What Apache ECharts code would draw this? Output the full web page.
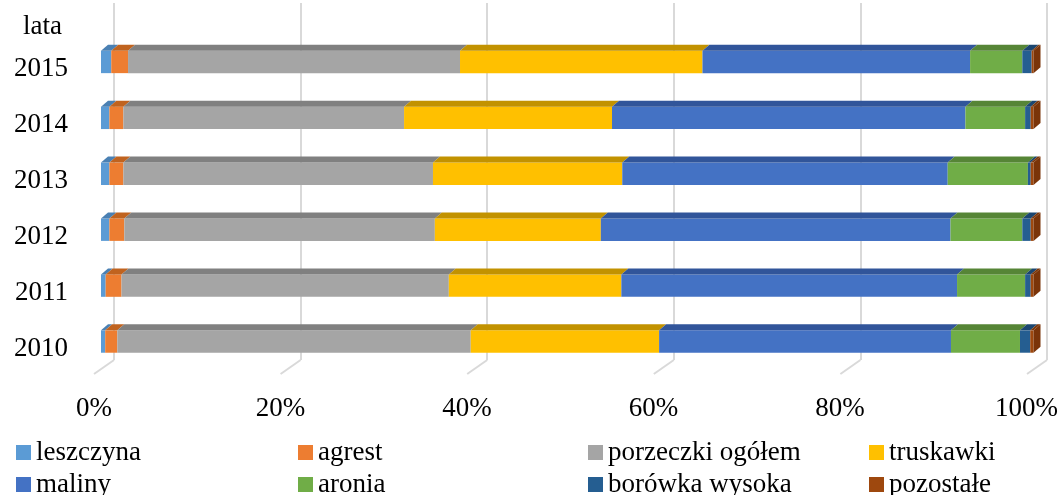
<!DOCTYPE html>
<html>
<head>
<meta charset="utf-8">
<script src="https://cdn.jsdelivr.net/npm/echarts@6/dist/echarts.min.js"></script>
<style>
  html, body { margin: 0; padding: 0; background: #fff; }
  #echarts_main { width: 1061px; height: 495px; }
</style>
</head>
<body>
<div id="echarts_main"></div>
<script>
// dane (udział w %)
var lata = ['2010', '2011', '2012', '2013', '2014', '2015'];
var leszczyna = [0.45, 0.5, 0.9, 0.9, 0.9, 1.1];
var agrest = [1.3, 1.7, 1.6, 1.5, 1.5, 1.8];
var porzeczki = [37.9, 35.1, 33.3, 33.2, 30.1, 35.6];
var truskawki = [20.2, 18.5, 17.8, 20.3, 22.3, 26.0];
var maliny = [31.3, 36.0, 37.5, 34.9, 37.9, 28.7];
var aronia = [7.4, 7.3, 7.7, 8.6, 6.4, 5.6];
var borowka = [1.1, 0.6, 0.9, 0.3, 0.6, 1.0];
var pozostale = [0.35, 0.3, 0.3, 0.3, 0.3, 0.2];
var osX = [0, 20, 40, 60, 80, 100];

var FONT = 'Liberation Serif';
var DX = 7, DY = 6; // przesunięcie efektu 3D

var grupy = [
  { name: 'leszczyna', data: leszczyna, color: '#5B9BD5', top: '#4A80B3' },
  { name: 'agrest', data: agrest, color: '#ED7D31', top: '#C0631F' },
  { name: 'porzeczki ogółem', data: porzeczki, color: '#A5A5A5', top: '#808080' },
  { name: 'truskawki', data: truskawki, color: '#FFC000', top: '#C29200' },
  { name: 'maliny', data: maliny, color: '#4472C4', top: '#31559A' },
  { name: 'aronia', data: aronia, color: '#70AD47', top: '#568536' },
  { name: 'borówka wysoka', data: borowka, color: '#255E91', top: '#1B4670' },
  { name: 'pozostałe', data: pozostale, color: '#9E480E', top: '#7A360A', side: '#7A3409' }
];

function segment(g, last) {
  return function (params, api) {
    var a = api.coord([api.value(0), api.value(2)]);
    var b = api.coord([api.value(1), api.value(2)]);
    var h = api.size([0, 1])[1] * 0.4;
    var y0 = a[1] - h / 2, y1 = a[1] + h / 2;
    var ch = [
      { type: 'rect', shape: { x: a[0], y: y0, width: b[0] - a[0], height: h }, style: { fill: g.color } },
      { type: 'polygon', shape: { points: [[a[0], y0], [b[0], y0], [b[0] + DX, y0 - DY], [a[0] + DX, y0 - DY]] }, style: { fill: g.top } }
    ];
    if (last) {
      ch.push({ type: 'polygon', shape: { points: [[b[0], y0], [b[0] + DX, y0 - DY], [b[0] + DX, y1 - DY], [b[0], y1]] }, style: { fill: g.side } });
    }
    return { type: 'group', children: ch };
  };
}

var suma = lata.map(function () { return 0; });
var series = [];

// linie siatki - część "podłogi"
series.push({
  type: 'custom',
  xAxisIndex: 1,
  yAxisIndex: 1,
  silent: true,
  z: 0,
  data: osX.map(function (v) { return [v, 0]; }),
  renderItem: function (params, api) {
    var p = api.coord([api.value(0), 0]);
    return {
      type: 'polyline',
      shape: { points: [[p[0], p[1]], [p[0] - 20, p[1] + 14]] },
      style: { stroke: '#D9D9D9', lineWidth: 2, fill: null }
    };
  }
});

grupy.forEach(function (g, k) {
  var d = g.data.map(function (v, i) {
    var s = suma[i];
    suma[i] += v;
    return [s, s + v, i];
  });
  series.push({
    name: g.name,
    type: 'custom',
    xAxisIndex: 0,
    yAxisIndex: 0,
    z: 2,
    itemStyle: { color: g.color },
    encode: { x: [0, 1], y: 2 },
    data: d,
    renderItem: segment(g, k === grupy.length - 1)
  });
});

// legenda w układzie 4 kolumny x 2 wiersze
var kolumny = [16, 298, 588, 869];
var wiersze = [439, 471];
var legendy = grupy.map(function (g, k) {
  return {
    left: kolumny[k % 4],
    top: wiersze[Math.floor(k / 4)],
    icon: 'rect',
    itemWidth: 15,
    itemHeight: 15,
    padding: 0,
    selectedMode: false,
    textStyle: { fontFamily: FONT, fontSize: 27, color: '#000', lineHeight: 27 },
    data: [g.name]
  };
});

var myChart = echarts.init(document.getElementById('echarts_main'));
myChart.setOption({
  animation: false,
  backgroundColor: '#fff',
  title: {
    text: 'lata',
    left: 18,
    top: 8,
    textStyle: { fontFamily: FONT, fontSize: 27, fontWeight: 'normal', color: '#000' }
  },
  grid: [
    { left: 101, right: 27, top: 34, bottom: 125.5 },
    { left: 114, right: 14, top: 3, bottom: 135 },
    // siatka tylko dla opisów lat (lekko niżej niż słupki)
    { left: 101, right: 27, top: 41, bottom: 118.5 }
  ],
  xAxis: [
    {
      gridIndex: 0,
      type: 'value',
      min: 0,
      max: 100,
      interval: 20,
      axisLine: { show: false },
      axisTick: { show: false },
      splitLine: { show: false },
      axisLabel: {
        formatter: '{value}%',
        fontFamily: FONT,
        fontSize: 27,
        color: '#000',
        margin: 26,
        padding: [0, 14, 0, 0]
      }
    },
    {
      gridIndex: 1,
      type: 'value',
      min: 0,
      max: 100,
      interval: 20,
      axisLine: { show: false },
      axisTick: { show: false },
      axisLabel: { show: false },
      splitLine: { show: true, lineStyle: { color: '#D9D9D9', width: 2 } }
    },
    { gridIndex: 2, type: 'value', min: 0, max: 100, show: false }
  ],
  yAxis: [
    {
      gridIndex: 0,
      type: 'category',
      data: lata,
      axisLine: { show: false },
      axisTick: { show: false },
      axisLabel: { show: false }
    },
    {
      gridIndex: 1,
      type: 'value',
      min: 0,
      max: 1,
      show: false
    },
    {
      gridIndex: 2,
      type: 'category',
      data: lata,
      axisLine: { show: false },
      axisTick: { show: false },
      axisLabel: {
        fontFamily: FONT,
        fontSize: 27,
        color: '#000',
        margin: 33
      }
    }
  ],
  legend: legendy,
  series: series
});
</script>
</body>
</html>
